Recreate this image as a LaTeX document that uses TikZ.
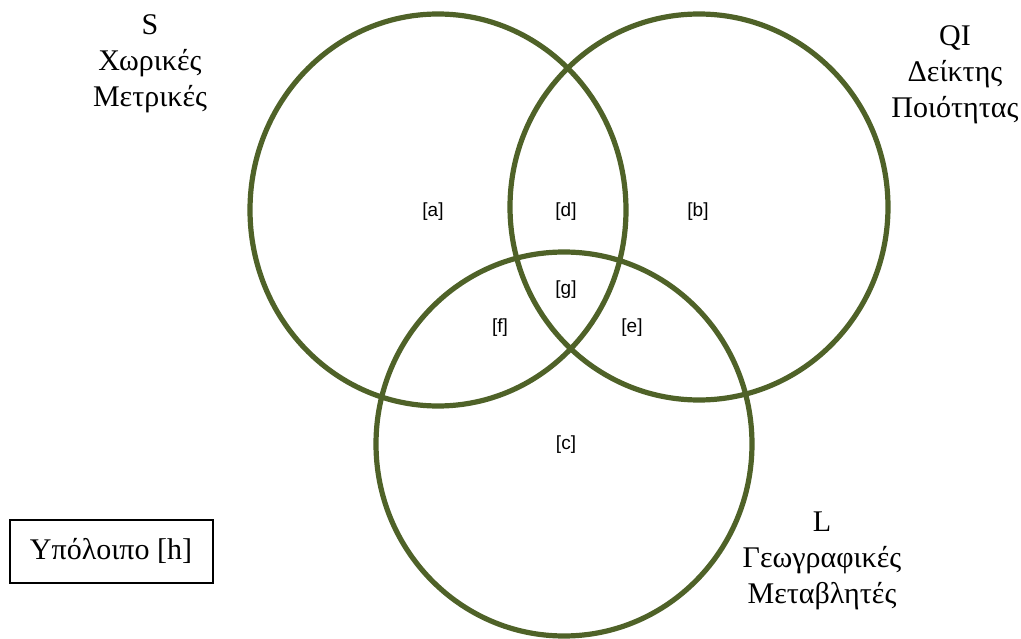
\documentclass[tikz,border=0pt]{standalone}
\usepackage{fontspec}
\setmainfont{Liberation Serif}
\newfontfamily\lblfont{Liberation Sans}
\usepackage{tikz}
\usetikzlibrary{shapes.geometric}
\definecolor{olive}{HTML}{4F6228}

\begin{document}
\begin{tikzpicture}[
x=1pt,y=-1pt,
venn/.style={ellipse,draw=olive,line width=5.2pt,inner sep=0pt},
setname/.style={align=center,font=\fontsize{30}{36}\selectfont},
region/.style={font=\lblfont\fontsize{19}{20}\selectfont},
restbox/.style={draw,line width=2pt,minimum width=203pt,minimum height=63pt,font=\fontsize{30}{36}\selectfont}
]
\useasboundingbox (0,0) rectangle (1021,639);
% the three sets
\node[venn,minimum width=376pt,minimum height=392pt] (S) at (438,210) {};
\node[venn,minimum width=378pt,minimum height=386pt] (QI) at (699,207) {};
\node[venn,minimum width=376pt,minimum height=384pt] (L) at (564,444) {};

% set names
\node[setname] (Sname) at (150,64) {S\\Χωρικές\\Μετρικές};
\node[setname] (QIname) at (955,75) {QI\\Δείκτης\\Ποιότητας};
\node[setname] (Lname) at (822,561) {L\\Γεωγραφικές\\Μεταβλητές};

% regions
\node[region] (ra) at (433,212) {[a]};
\node[region] (rd) at (566,212) {[d]};
\node[region] (rb) at (698,212) {[b]};
\node[region] (rg) at (566,290) {[g]};
\node[region] (rf) at (500,328) {[f]};
\node[region] (re) at (632,328) {[e]};
\node[region] (rc) at (566,445) {[c]};

\node[restbox] (rest) at (111,551) {Υπόλοιπο [h]};
\end{tikzpicture}
\end{document}
